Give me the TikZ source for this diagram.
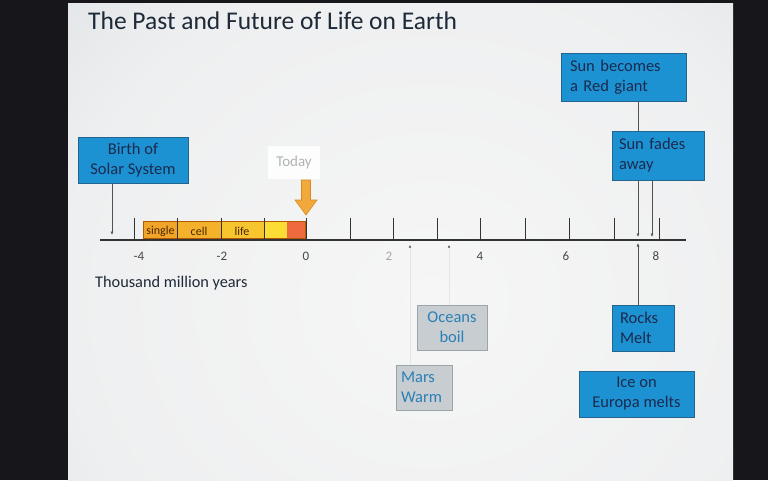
\documentclass[tikz,border=0pt]{standalone}
\usepackage{fontspec}
\setmainfont{Carlito}
\usetikzlibrary{arrows.meta}
\definecolor{frame}{HTML}{17171B}
\definecolor{slA}{HTML}{F6F6F6}
\definecolor{slB}{HTML}{EEEFF0}
\definecolor{slC}{HTML}{DADFE2}
\definecolor{slD}{HTML}{C9D1D6}
\definecolor{slE}{HTML}{AFBCC6}
\definecolor{boxblue}{HTML}{1D92D2}
\definecolor{boxedge}{HTML}{24648F}
\definecolor{navy}{HTML}{1B2A4E}
\definecolor{boxgray}{HTML}{C8CDD1}
\definecolor{grayedge}{HTML}{9CA3A9}
\definecolor{tealtext}{HTML}{2A80B6}
\definecolor{axisc}{HTML}{333333}
\definecolor{segA}{HTML}{F0A52A}
\definecolor{segB}{HTML}{F4B22C}
\definecolor{segC}{HTML}{F7C52E}
\definecolor{segD}{HTML}{FCDD36}
\definecolor{segE}{HTML}{EF6B3F}
\definecolor{arrowor}{HTML}{F2A93B}
\definecolor{arrowedge}{HTML}{D88A22}
\definecolor{faint}{HTML}{E4E6E8}
\definecolor{titlec}{HTML}{1F2A38}
\pgfdeclareradialshading{slideshade}{\pgfpoint{0bp}{0bp}}{color(0bp)=(slA); color(20bp)=(slB); color(33bp)=(slC); color(42bp)=(slD); color(52bp)=(slE)}
\tikzset{
  bluebox/.style={draw=boxedge, line width=0.8pt, fill=boxblue, text=navy, font=\fontsize{16.5}{20}\selectfont, inner sep=0pt},
  graybox/.style={draw=grayedge, line width=0.8pt, fill=boxgray, text=tealtext, font=\fontsize{16.5}{20}\selectfont, inner sep=0pt},
  conn/.style={draw=axisc!85, line width=0.6pt, -{Latex[length=3.5pt,width=3pt]}},
  faintconn/.style={draw=faint, line width=0.6pt, -{Latex[length=2.5pt,width=2.5pt,color=axisc!80]}},
  tick/.style={draw=axisc, line width=0.9pt},
  ticklabel/.style={text=axisc!90, font=\fontsize{13}{15}\selectfont, inner sep=0pt},
  seglabel/.style={text=black!70!orange, font=\fontsize{12}{13}\selectfont, inner sep=0pt}
}
\begin{document}
\begin{tikzpicture}[x=1pt,y=-1pt]
\useasboundingbox (0,0) rectangle (768,480);
% frame and slide
\fill[frame] (0,0) rectangle (768,480);
\begin{scope}
\clip (68,3) rectangle (733,480);
\shade[shading=slideshade] (-30,-120) rectangle (890,720);
\end{scope}
% title
\node[anchor=west, text=titlec, font=\fontsize{25.5}{28}\selectfont, inner sep=0pt] (title) at (88,21) {The Past and Future of Life on Earth};
% Today box
\node[fill=white, fill opacity=0.85, text opacity=1, text=black!30, minimum width=52pt, minimum height=33pt, inner sep=0pt, font=\fontsize{15}{16}\selectfont] (today) at (294,162) {Today};
% orange arrow
\filldraw[fill=arrowor, draw=arrowedge, line width=0.6pt] (301.5,180) -- (310.5,180) -- (310.5,200) -- (317,200) -- (306,215) -- (295,200) -- (301.5,200) -- cycle;
% bar segments
\fill[segA] (143,221) rectangle (178,238);
\fill[segB] (178,221) rectangle (221,238);
\fill[segC] (221,221) rectangle (264,238);
\fill[segD] (264,221) rectangle (287,238);
\fill[segE] (287,221) rectangle (305,238);
\draw[draw=orange!70!black, line width=0.5pt] (143,221) rectangle (305,238);
\node[seglabel] (lsingle) at (160.5,231) {single};
\node[seglabel] (lcell) at (199,231) {cell};
\node[seglabel] (llife) at (242,231) {life};
% axis
\coordinate (axL) at (100,240);
\coordinate (axR) at (686,240);
\draw[draw=axisc, line width=1.4pt] (axL) -- (axR);
\foreach \x in {134,177,221,264,306,350,393,437,480,525,569,614,659} {
  \draw[tick] (\x,218) -- (\x,240);
}
% tick labels
\node[ticklabel] (lm4) at (139,256) {-4};
\node[ticklabel] (lm2) at (222,256) {-2};
\node[ticklabel] (l0) at (306,256) {0};
\node[ticklabel, text=black!35] (l2) at (389,256) {2};
\node[ticklabel] (l4) at (480,256) {4};
\node[ticklabel] (l6) at (566,256) {6};
\node[ticklabel] (l8) at (656,256) {8};
\node[anchor=west, text=titlec, font=\fontsize{16.3}{18}\selectfont, inner sep=0pt] (units) at (95,283) {Thousand million years};
% boxes
\node[bluebox, minimum width=110pt, minimum height=46pt, align=center] (birth) at (133,160) {Birth of\\Solar System};
\node[bluebox, minimum width=125pt, minimum height=48pt, align=left, text width=107pt] (giant) at (623.5,77) {Sun becomes\\a Red giant};
\node[bluebox, minimum width=92pt, minimum height=49pt, align=left, text width=78pt] (fades) at (658,155.5) {Sun fades\\away};
\node[bluebox, minimum width=62pt, minimum height=46pt, align=left, text width=46pt] (rocks) at (643,328) {Rocks\\Melt};
\node[bluebox, minimum width=115pt, minimum height=46pt, align=center] (europa) at (636.5,394) {Ice on\\Europa melts};
\node[graybox, minimum width=70pt, minimum height=45pt, align=center] (oceans) at (452,327.5) {Oceans\\boil};
\node[graybox, minimum width=56pt, minimum height=45pt, align=left, text width=46pt] (mars) at (424,387.5) {Mars\\Warm};
% connector end points
\coordinate (tBirth) at (112,235);
\coordinate (tGiant) at (638,237);
\coordinate (tFades) at (652,237);
\coordinate (tRocks) at (638,243);
\coordinate (tOceans) at (449,245);
\coordinate (tMars) at (410,245);
% connectors
\draw[conn] (birth.south -| tBirth) -- (tBirth);
\draw[faintconn] (oceans.north -| tOceans) -- (tOceans);
\draw[faintconn] (mars.north -| tMars) -- (tMars);
\draw[conn] (rocks.north -| tRocks) -- (tRocks);
\draw[conn] (fades.south -| tFades) -- (tFades);
\draw[conn] (giant.south -| tGiant) -- (tGiant);
% fades box again, on top of the giant line
\node[bluebox, minimum width=92pt, minimum height=49pt, align=left, text width=78pt] (fades2) at (658,155.5) {Sun fades\\away};
\end{tikzpicture}
\end{document}
